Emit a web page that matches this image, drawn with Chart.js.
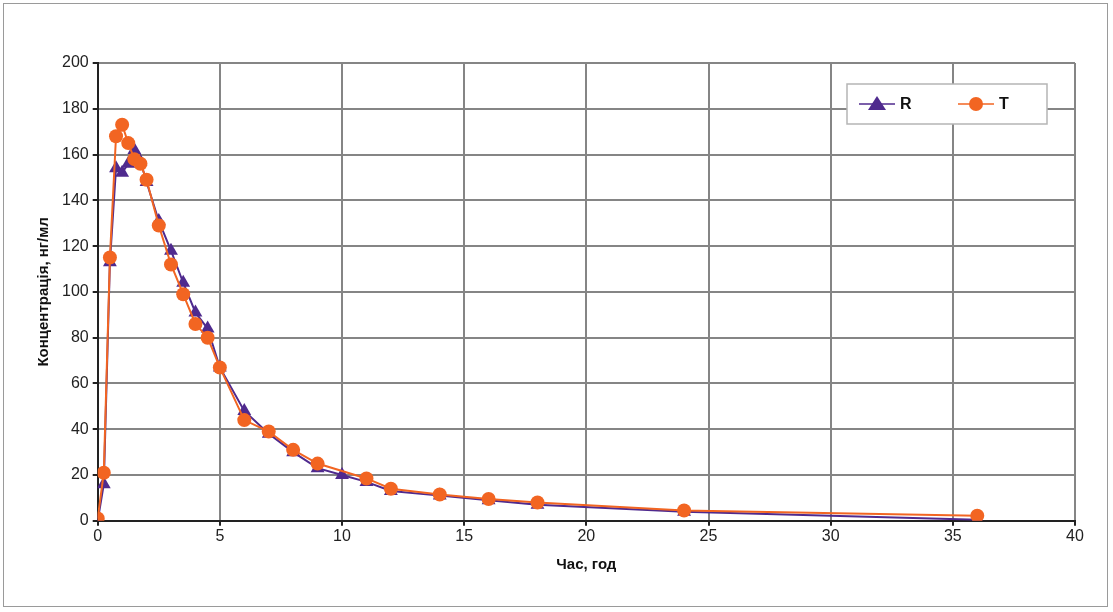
<!DOCTYPE html>
<html>
<head>
<meta charset="utf-8">
<script src="https://cdn.jsdelivr.net/npm/chart.js@4/dist/chart.umd.min.js"></script>
<style>
  html, body { margin: 0; padding: 0; background: #fff; }
  #wrap { position: absolute; left: 3px; top: 3px; width: 1105px; height: 604px;
          border: 1px solid #9a9a9a; box-sizing: border-box; }
  #chart { position: absolute; left: 0; top: 0; }
</style>
</head>
<body>
<div id="wrap"></div>
<canvas id="chart" width="1113" height="612"></canvas>
<script>
// sampling times (hours) and concentrations (ng/ml)
const times = [0, 0.25, 0.5, 0.75, 1, 1.25, 1.5, 1.75, 2, 2.5, 3, 3.5, 4, 4.5, 5, 6, 7, 8, 9, 10, 11, 12, 14, 16, 18, 24, 36];
const seriesR = [0, 16, 113, 154, 152, 156, 162, 157, 148, 131, 118, 104, 91, 84, 67, 48, 38, 30, 23, 20, 17, 13, 11, 9, 7, 4, 0.5];
const seriesT = [1, 21, 115, 168, 173, 165, 158, 156, 149, 129, 112, 99, 86, 80, 67, 44, 39, 31, 25, null, 18.5, 14, 11.5, 9.5, 8, 4.5, 2.2];

const xTicksMax = 40;
const yTicksMax = 200;

function toPoints(values) {
  return times.map((t, i) => ({ x: t, y: values[i] }));
}

const FONT = "'Liberation Sans', Arial, sans-serif";
const PURPLE = "#4f2a8e";
const ORANGE = "#f26522";

// legend box drawn inside the plot area, like the original
const legendBox = {
  id: "legendBox",
  afterDraw(chart) {
    const ctx = chart.ctx;
    const x = 847, y = 84, w = 200, h = 40;
    ctx.save();
    ctx.fillStyle = "#fff";
    ctx.strokeStyle = "#b5b5b5";
    ctx.lineWidth = 1.5;
    ctx.fillRect(x, y, w, h);
    ctx.strokeRect(x, y, w, h);
    const cy = y + h / 2;
    const items = [
      { label: "R", color: PURPLE, style: "triangle", x0: x + 12 },
      { label: "T", color: ORANGE, style: "circle", x0: x + 111 }
    ];
    items.forEach(it => {
      ctx.strokeStyle = it.color;
      ctx.lineWidth = 1.5;
      ctx.beginPath();
      ctx.moveTo(it.x0, cy);
      ctx.lineTo(it.x0 + 36, cy);
      ctx.stroke();
      ctx.fillStyle = it.color;
      ctx.beginPath();
      if (it.style === "triangle") {
        ctx.moveTo(it.x0 + 18, cy - 8);
        ctx.lineTo(it.x0 + 27, cy + 6);
        ctx.lineTo(it.x0 + 9, cy + 6);
        ctx.closePath();
      } else {
        ctx.arc(it.x0 + 18, cy, 7, 0, Math.PI * 2);
      }
      ctx.fill();
      ctx.fillStyle = "#111";
      ctx.font = "bold 16px " + FONT;
      ctx.textBaseline = "middle";
      ctx.fillText(it.label, it.x0 + 41, cy + 1);
    });
    ctx.restore();
  }
};

new Chart(document.getElementById("chart"), {
  type: "scatter",
  data: {
    datasets: [
      {
        label: "R",
        data: toPoints(seriesR),
        order: 2,
        showLine: true,
        borderColor: PURPLE,
        backgroundColor: PURPLE,
        borderWidth: 2,
        pointStyle: "triangle",
        pointRadius: 8,
        pointBorderWidth: 0,
        spanGaps: true
      },
      {
        label: "T",
        data: toPoints(seriesT),
        order: 1,
        showLine: true,
        borderColor: ORANGE,
        backgroundColor: ORANGE,
        borderWidth: 2,
        pointStyle: "circle",
        pointRadius: 7,
        pointBorderWidth: 0,
        spanGaps: true
      }
    ]
  },
  options: {
    responsive: false,
    animation: false,
    layout: { padding: { left: 31, right: 38, top: 63, bottom: 34 } },
    plugins: {
      legend: { display: false },
      tooltip: { enabled: false }
    },
    scales: {
      x: {
        type: "linear",
        min: 0,
        max: xTicksMax,
        ticks: { stepSize: 5, color: "#222", font: { family: FONT, size: 16 }, padding: 1 },
        grid: { color: "#858585", lineWidth: 2, tickLength: 5, tickColor: "#222" },
        border: { color: "#222", width: 2 },
        title: { display: true, text: "Час, год", color: "#111",
                 font: { family: FONT, size: 15, weight: "bold" }, padding: { top: 9 } }
      },
      y: {
        min: 0,
        max: yTicksMax,
        ticks: { stepSize: 20, color: "#222", font: { family: FONT, size: 16 }, padding: 4 },
        grid: { color: "#858585", lineWidth: 2, tickLength: 5, tickColor: "#222" },
        border: { color: "#222", width: 2 },
        title: { display: true, text: "Концентрація, нг/мл", color: "#111",
                 font: { family: FONT, size: 15, weight: "bold" }, padding: { bottom: 5 } }
      }
    }
  },
  plugins: [legendBox]
});
</script>
</body>
</html>
